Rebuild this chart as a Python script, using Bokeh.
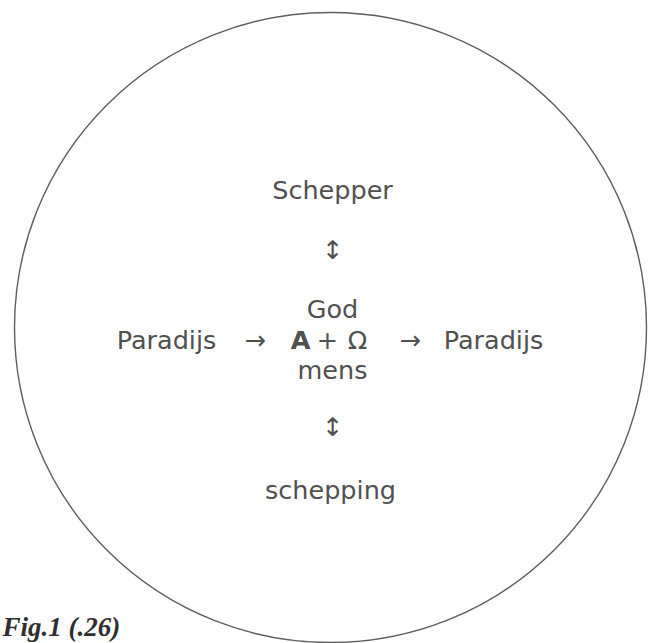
from bokeh.plotting import figure
from bokeh.models import Range1d, ColumnDataSource
from bokeh.core.properties import value
from bokeh.embed import file_html
from bokeh.resources import INLINE

# Diagram content (positions in reference-pixel coordinates)
circle_center = (330, 327)
circle_size = (632, 630)

words = ["Schepper", "\u2195", "God", "mens", "\u2195", "schepping"]
words_x = [332, 332, 332, 332, 332, 330]
words_y = [189, 249, 308, 369, 426, 489]

row_tokens = ["Paradijs", "\u2192", "+", "\u03a9", "\u2192", "Paradijs"]
row_x = [166, 255, 327, 357, 410, 493]
row_y = [339, 339, 339, 339, 339, 339]

bold_token = ["A"]
bold_x = [300]
bold_y = [339]

caption = ["Fig.1 (.26)"]
caption_x = [2]
caption_y = [641]

W, H = 654, 643
p = figure(width=W, height=H, output_backend="svg", toolbar_location=None,
           x_range=Range1d(0, W), y_range=Range1d(H, 0),
           min_border=0)
p.axis.visible = False
p.grid.visible = False
p.outline_line_color = None
p.background_fill_color = "white"
p.border_fill_color = "white"

p.ellipse(x=[circle_center[0]], y=[circle_center[1]],
          width=[circle_size[0]], height=[circle_size[1]],
          fill_color=None, line_color="#5e5e5e", line_width=1.4)

txt = dict(text_font=value("DejaVu Sans"), text_font_size="25.5px",
           text_color="#505050", text_align="center", text_baseline="middle")

p.text(x="x", y="y", text="t",
       source=ColumnDataSource(dict(x=words_x, y=words_y, t=words)), **txt)
p.text(x="x", y="y", text="t",
       source=ColumnDataSource(dict(x=row_x, y=row_y, t=row_tokens)), **txt)
p.text(x="x", y="y", text="t",
       source=ColumnDataSource(dict(x=bold_x, y=bold_y, t=bold_token)),
       text_font_style="bold", **txt)

p.text(x="x", y="y", text="t",
       source=ColumnDataSource(dict(x=caption_x, y=caption_y, t=caption)),
       text_font=value("Liberation Serif"), text_font_size="27px",
       text_font_style="bold italic", text_color="#2e2e2e",
       text_align="left", text_baseline="bottom")

open("out.html", "w").write(file_html(p, INLINE))
